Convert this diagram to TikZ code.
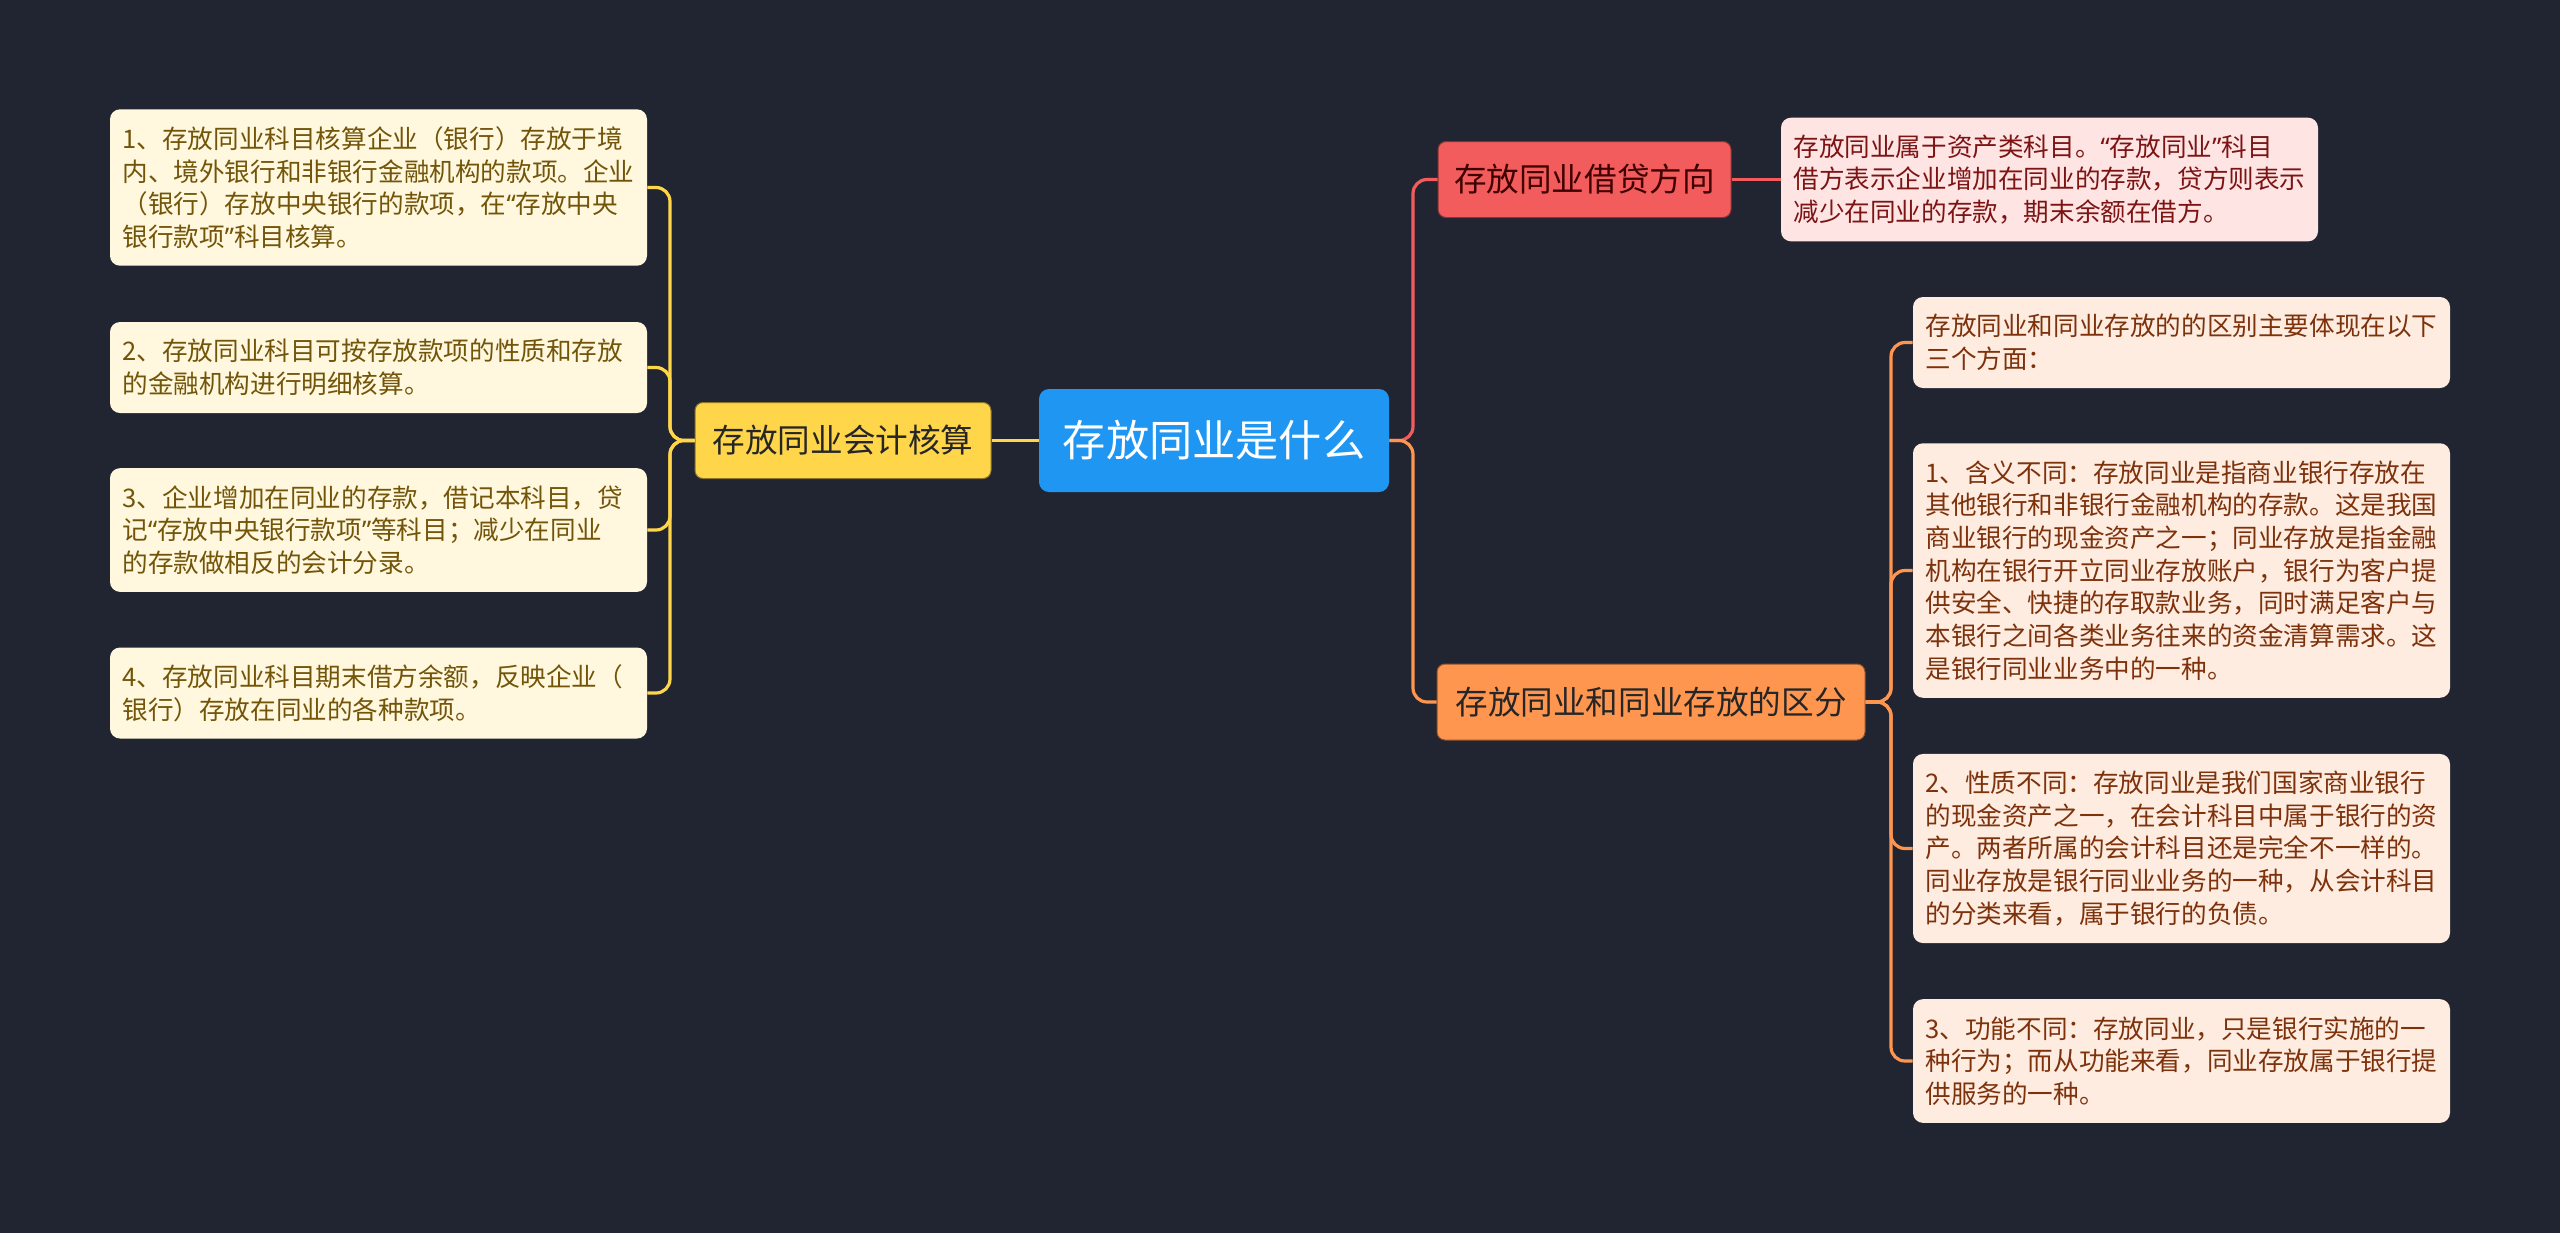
\documentclass[tikz,border=0pt]{standalone}
\usepackage{fontspec}
\setmainfont{Noto Sans CJK SC}
\newfontfamily\quotefont{Noto Sans}
\usepackage{tikz}
\usetikzlibrary{positioning}
\definecolor{bgnavy}{RGB}{33,37,50}
\definecolor{rootblue}{RGB}{32,150,243}
\definecolor{acctyellow}{RGB}{255,213,74}
\definecolor{debitred}{RGB}{242,92,92}
\definecolor{diffmango}{RGB}{255,150,80}
\definecolor{yleaffill}{RGB}{255,248,222}
\definecolor{yleaftext}{RGB}{115,85,10}
\definecolor{rleaffill}{RGB}{255,228,228}
\definecolor{rleaftext}{RGB}{125,20,20}
\definecolor{oleaffill}{RGB}{255,236,224}
\definecolor{oleaftext}{RGB}{125,50,12}
\newcommand{\rtfont}{\fontsize{21.6pt}{26pt}\selectfont}
\newcommand{\brfont}{\fontsize{16.3pt}{20pt}\selectfont}
\newcommand{\lffont}{\fontsize{12.8pt}{16.35pt}\selectfont}
\newcommand{\qopen}{{\quotefont “}}
\newcommand{\qclose}{{\quotefont ”}}

\begin{document}
\begin{tikzpicture}[
    x=0.5pt, y=-0.5pt,
    root/.style={rectangle, rounded corners=5pt, fill=rootblue, text=white,
                 font=\rtfont, minimum width=175pt, minimum height=51.5pt, inner sep=0pt},
    branch/.style={rectangle, rounded corners=4pt, fill=#1, draw=#1!55!black,
                   line width=0.5pt, font=\brfont, minimum height=38pt, inner sep=0pt},
    leaf/.style={rectangle, rounded corners=5pt, text width=256pt, inner xsep=6.25pt,
                 inner ysep=0pt, align=left, font=\lffont,
                 minimum height=#1*16.35pt+12.8pt},
    yleaf/.style={leaf=#1, fill=yleaffill, text=yleaftext},
    rleaf/.style={leaf=#1, fill=rleaffill, text=rleaftext},
    oleaf/.style={leaf=#1, fill=oleaffill, text=oleaftext},
    link/.style={line width=1.6pt, rounded corners=7pt, #1},
]
    \fill[bgnavy] (0,0) rectangle (2560,1233);

    \node[root] (root) at (1214,440.5) {存放同业是什么};

    % left side
    \node[branch=acctyellow, text=black!85, minimum width=148pt] (acct) at (843,440.5) {存放同业会计核算};
    \node[yleaf=4] (a1) at (378.5,187.5) {1、存放同业科目核算企业（银行）存放于境\\内、境外银行和非银行金融机构的款项。企业\\（银行）存放中央银行的款项，在\qopen 存放中央\\银行款项\qclose 科目核算。};
    \node[yleaf=2] (a2) at (378.5,367.5) {2、存放同业科目可按存放款项的性质和存放\\的金融机构进行明细核算。};
    \node[yleaf=3] (a3) at (378.5,530) {3、企业增加在同业的存款，借记本科目，贷\\记\qopen 存放中央银行款项\qclose 等科目；减少在同业\\的存款做相反的会计分录。};
    \node[yleaf=2] (a4) at (378.5,693) {4、存放同业科目期末借方余额，反映企业（\\银行）存放在同业的各种款项。};

    % right side
    \node[branch=debitred, text=black!75!red, minimum width=146.5pt] (debit) at (1584.5,179.5) {存放同业借贷方向};
    \node[rleaf=3] (d1) at (2049.5,179.5) {存放同业属于资产类科目。\qopen 存放同业\qclose 科目\\借方表示企业增加在同业的存款，贷方则表示\\减少在同业的存款，期末余额在借方。};

    \node[branch=diffmango, text=black!85, minimum width=214pt] (diff) at (1651,702) {存放同业和同业存放的区分};
    \node[oleaf=2] (o1) at (2181.5,342.5) {存放同业和同业存放的的区别主要体现在以下\\三个方面：};
    \node[oleaf=7] (o2) at (2181.5,570.5) {1、含义不同：存放同业是指商业银行存放在\\其他银行和非银行金融机构的存款。这是我国\\商业银行的现金资产之一；同业存放是指金融\\机构在银行开立同业存放账户，银行为客户提\\供安全、快捷的存取款业务，同时满足客户与\\本银行之间各类业务往来的资金清算需求。这\\是银行同业业务中的一种。};
    \node[oleaf=5] (o3) at (2181.5,848.5) {2、性质不同：存放同业是我们国家商业银行\\的现金资产之一，在会计科目中属于银行的资\\产。两者所属的会计科目还是完全不一样的。\\同业存放是银行同业业务的一种，从会计科目\\的分类来看，属于银行的负债。};
    \node[oleaf=3] (o4) at (2181.5,1061) {3、功能不同：存放同业，只是银行实施的一\\种行为；而从功能来看，同业存放属于银行提\\供服务的一种。};

    \coordinate (lfork) at (670,440.5);
    \coordinate (rfork) at (1413,440.5);
    \coordinate (ofork) at (1891,702);

    \draw[link=acctyellow] (root.west) -- (acct.east);
    \foreach \leaf in {a1,a2,a3,a4}
        \draw[link=acctyellow] (acct.west) -- (lfork) |- (\leaf.east);

    \draw[link=debitred] (root.east) -- (rfork) |- (debit.west);
    \draw[link=debitred] (debit.east) -- (d1.west);
    \draw[link=diffmango] (root.east) -- (rfork) |- (diff.west);
    \foreach \leaf in {o1,o2,o3,o4}
        \draw[link=diffmango] (diff.east) -- (ofork) |- (\leaf.west);
\end{tikzpicture}
\end{document}
